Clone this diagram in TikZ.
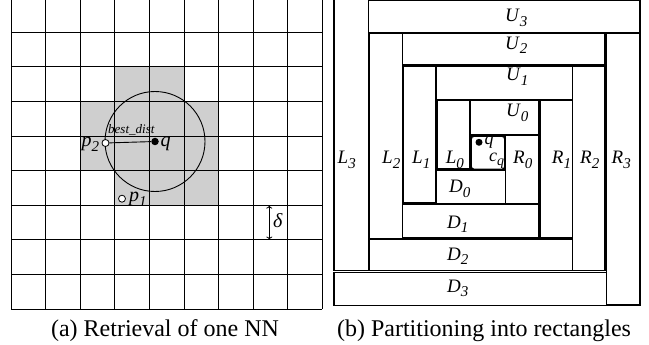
\documentclass[tikz,border=0pt]{standalone}
\usepackage{fontspec}
\setmainfont{Liberation Serif}
\usetikzlibrary{arrows.meta}
\newcommand\lbl[2]{\textit{#1}\raisebox{-0.24em}{\fontsize{15}{15}\selectfont\textit{#2}}}
\begin{document}
\begin{tikzpicture}[x=1pt,y=-1pt,
  gridline/.style={line width=0.9pt},
  cellfill/.style={fill=black!19},
  part/.style={line width=1.4pt},
  lab/.style={inner sep=0pt,anchor=base west,font=\fontsize{19}{22}\selectfont},
  llab/.style={inner sep=0pt,anchor=base west,font=\fontsize{20}{24}\selectfont},
  captxt/.style={inner sep=0pt,anchor=base,font=\fontsize{24}{28}\selectfont},
  ptw/.style={circle,draw,fill=white,line width=0.8pt,minimum size=7pt,inner sep=0pt},
  ptb/.style={circle,fill=black,minimum size=7.5pt,inner sep=0pt}]
\useasboundingbox (0,0) rectangle (649,345);
\begin{scope}
\clip (0,0) rectangle (649,345);
% shaded cells
\fill[cellfill] (114.8,66.9) rectangle (184.0,101.5);
\fill[cellfill] (80.2,101.5) rectangle (218.6,170.7);
\fill[cellfill] (114.8,170.7) rectangle (218.6,205.3);
% grid
\foreach \i in {0,...,9} \draw[gridline] ({11+34.6*\i},-3) -- ({11+34.6*\i},309.1);
\foreach \j in {0,...,9} \draw[gridline] (11,{-2.3+34.6*\j}) -- (322.4,{-2.3+34.6*\j});
% circle and points
\coordinate (qc) at (155,141.5);
\draw[line width=0.9pt] (qc) circle (50pt);
\node[ptb] (q) at (qc) {};
\node[ptw] (p2) at (105.5,143) {};
\node[ptw] (p1) at (122,198.7) {};
\draw[line width=0.9pt] (p2) -- (q);
\node[llab] (p2l) at (81.5,146.8) {\lbl{p}{2}};
\node[llab] (ql) at (160.5,146.8) {\textit{q}};
\node[llab] (p1l) at (129,201.5) {\lbl{p}{1}};
\node[inner sep=0pt,anchor=base west,font=\fontsize{13}{15}\selectfont\itshape] (bd) at (108,134) {best\_dist};
% delta
\coordinate (da) at (269.3,205.6);
\coordinate (db) at (269.3,239.6);
\draw[{To[length=3pt,width=6pt]}-{To[length=3pt,width=6pt]},line width=0.8pt] (da) -- (db);
\node[llab] (dl) at (273,227) {\textit{δ}};
% right panel
\draw[part] (334,-3) rectangle (368.3,270.7);
\draw[part] (368.3,0.8) rectangle (640,32.3);
\draw[part] (606.7,33.3) rectangle (640,305);
\draw[part] (334,272.7) rectangle (606.7,305.5);
\draw[part] (369.3,33.3) rectangle (402.3,239);
\draw[part] (402.3,33.3) rectangle (605,65);
\draw[part] (572.7,66) rectangle (605,270.7);
\draw[part] (369.3,239) rectangle (572.7,270.7);
\draw[part] (403.3,66.7) rectangle (436,202.3);
\draw[part] (436.7,66.7) rectangle (572.3,100);
\draw[part] (540,100.7) rectangle (572.3,237.3);
\draw[part] (402.7,204) rectangle (538.3,237.3);
\draw[part] (437.3,100.7) rectangle (470,169);
\draw[part] (470,100.7) rectangle (539,135);
\draw[part] (505.7,135.7) rectangle (539,204);
\draw[part] (436.7,170) rectangle (505.7,204);
\draw[line width=1.8pt,rounded corners=3pt] (471,136) rectangle (505,169.5);
\end{scope}
% labels right
\node[lab] (U3) at (505,21.7) {\lbl{U}{3}};
\node[lab] (U2) at (505,49.3) {\lbl{U}{2}};
\node[lab] (U1) at (506,80.7) {\lbl{U}{1}};
\node[lab] (U0) at (506,116.7) {\lbl{U}{0}};
\node[lab] (L3) at (337.5,164) {\lbl{L}{3}};
\node[lab] (L2) at (382,164) {\lbl{L}{2}};
\node[lab] (L1) at (412,164) {\lbl{L}{1}};
\node[lab] (L0) at (445.7,164) {\lbl{L}{0}};
\node[lab] (R0) at (513,164) {\lbl{R}{0}};
\node[lab] (R1) at (551.7,164) {\lbl{R}{1}};
\node[lab] (R2) at (580,164) {\lbl{R}{2}};
\node[lab] (R3) at (611.5,164) {\lbl{R}{3}};
\node[lab] (D0) at (449,192.5) {\lbl{D}{0}};
\node[lab] (D1) at (447,228) {\lbl{D}{1}};
\node[lab] (D2) at (447,260) {\lbl{D}{2}};
\node[lab] (D3) at (447,292) {\lbl{D}{3}};
\node[ptb,minimum size=7pt] (q2) at (479,142.3) {};
\node[lab,font=\fontsize{18}{20}\selectfont] (q2l) at (484.5,145) {\textit{q}};
\node[lab,font=\fontsize{18}{20}\selectfont] (cq) at (489,161) {\textit{c}\raisebox{-0.24em}{\fontsize{14}{14}\selectfont\textit{q}}};
% captions
\node[captxt] (capa) at (165,336.5) {(a) Retrieval of one NN};
\node[captxt] (capb) at (484,336.5) {(b) Partitioning into rectangles};
\end{tikzpicture}
\end{document}
